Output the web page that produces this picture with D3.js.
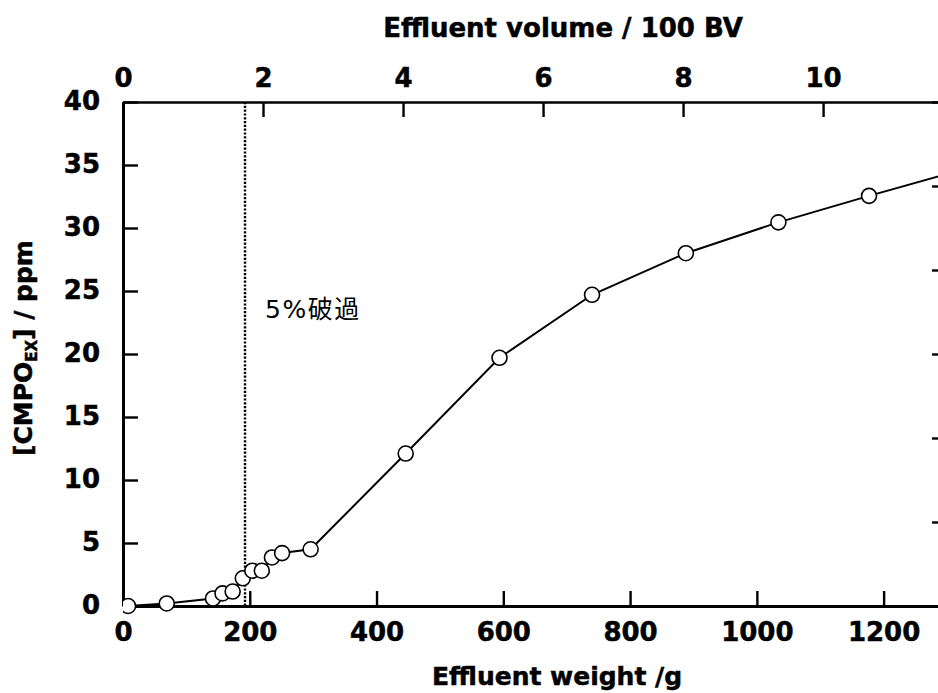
<!DOCTYPE html>
<html>
<head>
<meta charset="utf-8">
<script src="https://cdn.jsdelivr.net/npm/d3@7"></script>
<style>
  html, body { margin: 0; padding: 0; background: #fff; }
  svg { display: block; }
  text { font-family: "DejaVu Sans", Verdana, sans-serif; }
</style>
</head>
<body>
<svg id="chart" width="938" height="693"></svg>
<script>
// ---- data ----
const weight = [8, 69, 142, 157, 173, 189, 204, 219, 235, 251, 296, 446, 594, 740, 888, 1034, 1177, 1322];
const cmpo   = [0, 0.2, 0.6, 1.0, 1.15, 2.2, 2.8, 2.8, 3.85, 4.2, 4.5, 12.1, 19.7, 24.7, 28.0, 30.45, 32.55, 34.6];
const bottomTicks = [0, 200, 400, 600, 800, 1000, 1200];
const leftTicks = [0, 5, 10, 15, 20, 25, 30, 35, 40];
const topTicks = [0, 2, 4, 6, 8, 10];
const rightTicks = [0, 1, 2, 3, 4, 5, 6];
const breakthroughWeight = 192.5;
const breakthroughLabel = "5%破過";
const xTitle = "Effluent weight /g";
const topTitle = "Effluent volume / 100 BV";
const xMax = 1300, yMax = 40, topMax = 11.77, rightMax = 6;

// ---- layout ----
const L = 123, R = 947, T = 102, B = 606;
const svg = d3.select("#chart");
svg.append("rect").attr("width", 938).attr("height", 693).attr("fill", "#fff");

const x = d3.scaleLinear().domain([0, xMax]).range([L, R]);
const y = d3.scaleLinear().domain([0, yMax]).range([B, T]);
const xTop = d3.scaleLinear().domain([0, topMax]).range([L, R]);
const yRight = d3.scaleLinear().domain([0, rightMax]).range([B, T]);

svg.append("defs").append("clipPath").attr("id", "plot")
  .append("rect").attr("x", L).attr("y", T - 10).attr("width", R - L).attr("height", B - T + 20);

const tickFont = 26;
function heavy(sel) {
  sel.attr("fill", "#000").attr("stroke", "#000").attr("stroke-width", 0.5)
    .style("font-family", '"DejaVu Sans", Verdana, sans-serif').style("font-weight", "bold");
}
function styleAxis(g, width) {
  g.select(".domain").attr("stroke", "#000").attr("stroke-width", width);
  g.selectAll(".tick line").attr("stroke", "#000").attr("stroke-width", 2.4);
  g.selectAll(".tick text").call(heavy).style("font-size", tickFont + "px");
}

// bottom axis
const gB = svg.append("g").attr("transform", `translate(0,${B})`)
  .call(d3.axisBottom(x).tickValues(bottomTicks).tickSizeInner(-15).tickSizeOuter(0).tickPadding(17).tickFormat(d3.format("d")));
styleAxis(gB, 3);

// left axis
const gL = svg.append("g").attr("transform", `translate(${L},0)`)
  .call(d3.axisLeft(y).tickValues(leftTicks).tickSizeInner(-15).tickSizeOuter(0).tickPadding(23).tickFormat(d3.format("d")));
styleAxis(gL, 3);
gL.selectAll(".tick text").attr("dy", "0.28em");

// top axis
const gT = svg.append("g").attr("transform", `translate(0,${T})`)
  .call(d3.axisTop(xTop).tickValues(topTicks).tickSizeInner(-15).tickSizeOuter(0).tickPadding(15).tickFormat(d3.format("d")));
styleAxis(gT, 2.6);

// right axis (labels outside the picture)
const gR = svg.append("g").attr("transform", `translate(${R},0)`)
  .call(d3.axisRight(yRight).tickValues(rightTicks).tickSizeInner(-15).tickSizeOuter(0).tickFormat(""));
styleAxis(gR, 3);

// titles
svg.append("text").attr("x", 563).attr("y", 37).attr("text-anchor", "middle")
  .call(heavy).style("font-size", "26px").text(topTitle);
svg.append("text").attr("x", 557).attr("y", 685).attr("text-anchor", "middle")
  .call(heavy).style("font-size", "25px").text(xTitle);

const yl = svg.append("text").attr("transform", "translate(32,348) rotate(-90)")
  .attr("text-anchor", "middle").call(heavy).style("font-size", "25px");
yl.append("tspan").text("[CMPO");
yl.append("tspan").attr("dy", 5).style("font-size", "15px").text("EX");
yl.append("tspan").attr("dy", -5).text("] / ppm");

// breakthrough line
svg.append("line")
  .attr("x1", x(breakthroughWeight)).attr("x2", x(breakthroughWeight))
  .attr("y1", y(yMax)).attr("y2", y(0))
  .attr("stroke", "#000").attr("stroke-width", 2.4).attr("stroke-dasharray", "2.2 1.6");
svg.append("text").attr("x", x(breakthroughWeight) + 20).attr("y", 318)
  .style("font-family", '"DejaVu Sans", "Noto Sans CJK JP", sans-serif')
  .style("font-size", "25px").style("letter-spacing", "1.5px").text(breakthroughLabel);

// data line + markers
const pts = weight.map((w, i) => [w, cmpo[i]]);
const plot = svg.append("g").attr("clip-path", "url(#plot)");
plot.append("path").datum(pts)
  .attr("d", d3.line().x(d => x(d[0])).y(d => y(d[1])))
  .attr("fill", "none").attr("stroke", "#000").attr("stroke-width", 2);
plot.selectAll("circle").data(pts).join("circle")
  .attr("cx", d => x(d[0])).attr("cy", d => y(d[1])).attr("r", 7.5)
  .attr("fill", "#fff").attr("stroke", "#000").attr("stroke-width", 1.6);
</script>
</body>
</html>
